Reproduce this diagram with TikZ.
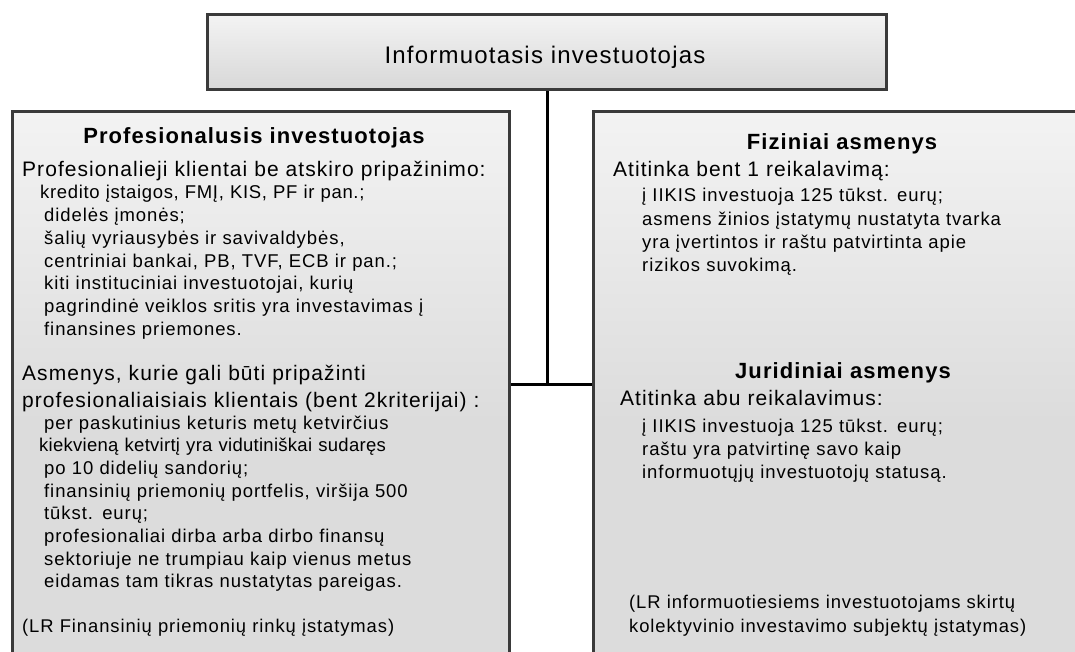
\documentclass[tikz,border=0pt]{standalone}
\usepackage{fontspec}
\setmainfont{Liberation Sans}[LetterSpace=5]
\definecolor{boxtop}{RGB}{243,243,243}
\definecolor{boxbot}{RGB}{220,220,220}
\definecolor{edge}{RGB}{58,58,58}
\tikzset{
  panel/.style={draw=edge, line width=3pt, rectangle, anchor=north west, inner sep=0pt},
  link/.style={draw=black, line width=3pt},
  headtxt/.style={anchor=base, inner sep=0pt, font=\fontsize{22}{26}\selectfont\bfseries},
  maintxt/.style={anchor=base west, inner sep=0pt, align=left, text width=480pt, font=\fontsize{21}{27}\selectfont},
  subtxt/.style={anchor=base west, inner sep=0pt, align=left, text width=470pt, font=\fontsize{18.5}{22.7}\selectfont},
  lawtxt/.style={anchor=base west, inner sep=0pt, align=left, text width=470pt, font=\fontsize{18.4}{24}\selectfont},
}
\begin{document}
\begin{tikzpicture}[x=1pt, y=-1pt]
\useasboundingbox (0,0) rectangle (1075,652);
\clip (0,0) rectangle (1075,652);
% boxes
\node[panel, top color=boxtop, bottom color=boxbot!120!boxtop, minimum width=679pt, minimum height=75pt] (top) at (205.5,13.5) {};
\node[panel, top color=boxtop, bottom color=boxbot, middle color=boxbot, minimum width=497.5pt, minimum height=620pt] (prof) at (10.5,110.5) {};
\node[panel, top color=boxtop, bottom color=boxbot, middle color=boxbot, minimum width=540pt, minimum height=620pt] (info) at (592,110.5) {};
% connectors
\coordinate (joint) at (547,384);
\draw[link] (top.south -| joint) -- (joint);
\draw[link] (prof.east |- joint) -- (info.west |- joint);
% title
\node[anchor=base, inner sep=0pt, font=\fontsize{24}{28}\selectfont] (ttl) at (545,64) {Informuotasis investuotojas};
% left box
\node[headtxt] (h1) at (254,144) {Profesionalusis investuotojas};
\node[maintxt] (m1) at (22,177) {Profesionalieji klientai be atskiro pripažinimo:};
\node[subtxt] (s1) at (44,199) {\hspace*{-4pt}{\addfontfeature{LetterSpace=3.5}kredito įstaigos, FMĮ, KIS, PF ir pan.;}\\
didelės įmonės;\\
šalių vyriausybės ir savivaldybės,\\
centriniai bankai, PB, TVF, ECB ir pan.;\\
kiti instituciniai investuotojai, kurių\\
pagrindinė veiklos sritis yra investavimas į\\
finansines priemones.};
\node[maintxt] (m2) at (22,380) {Asmenys, kurie gali būti pripažinti\\
profesionaliaisiais klientais (bent 2kriterijai) :};
\node[subtxt] (s2) at (44,429) {per paskutinius keturis metų ketvirčius\\
\hspace*{-5pt}{\addfontfeature{LetterSpace=1.5}kiekvieną ketvirtį yra vidutiniškai sudaręs}\\
po 10 didelių sandorių;\\
finansinių priemonių portfelis, viršija 500\\
tūkst. eurų;\\
profesionaliai dirba arba dirbo finansų\\
sektoriuje ne trumpiau kaip vienus metus\\
eidamas tam tikras nustatytas pareigas.};
\node[lawtxt] (law1) at (22,632) {(LR Finansinių priemonių rinkų įstatymas)};
% right box
\node[headtxt] (h2) at (842,150) {Fiziniai asmenys};
\node[maintxt] (m3) at (613,177) {Atitinka bent 1 reikalavimą:};
\node[subtxt, font=\fontsize{18.5}{23.3}\selectfont] (s3) at (642,202) {į IIKIS investuoja 125 tūkst. eurų;\\
asmens žinios įstatymų nustatyta tvarka\\
yra įvertintos ir raštu patvirtinta apie\\
rizikos suvokimą.};
\node[headtxt] (h3) at (843,378) {Juridiniai asmenys};
\node[maintxt] (m4) at (620,405) {Atitinka abu reikalavimus:};
\node[subtxt, font=\fontsize{18.5}{23}\selectfont] (s4) at (642,432) {į IIKIS investuoja 125 tūkst. eurų;\\
raštu yra patvirtinę savo kaip\\
informuotųjų investuotojų statusą.};
\node[lawtxt] (law2) at (629,608) {(LR informuotiesiems investuotojams skirtų\\
kolektyvinio investavimo subjektų įstatymas)};
\end{tikzpicture}
\end{document}
